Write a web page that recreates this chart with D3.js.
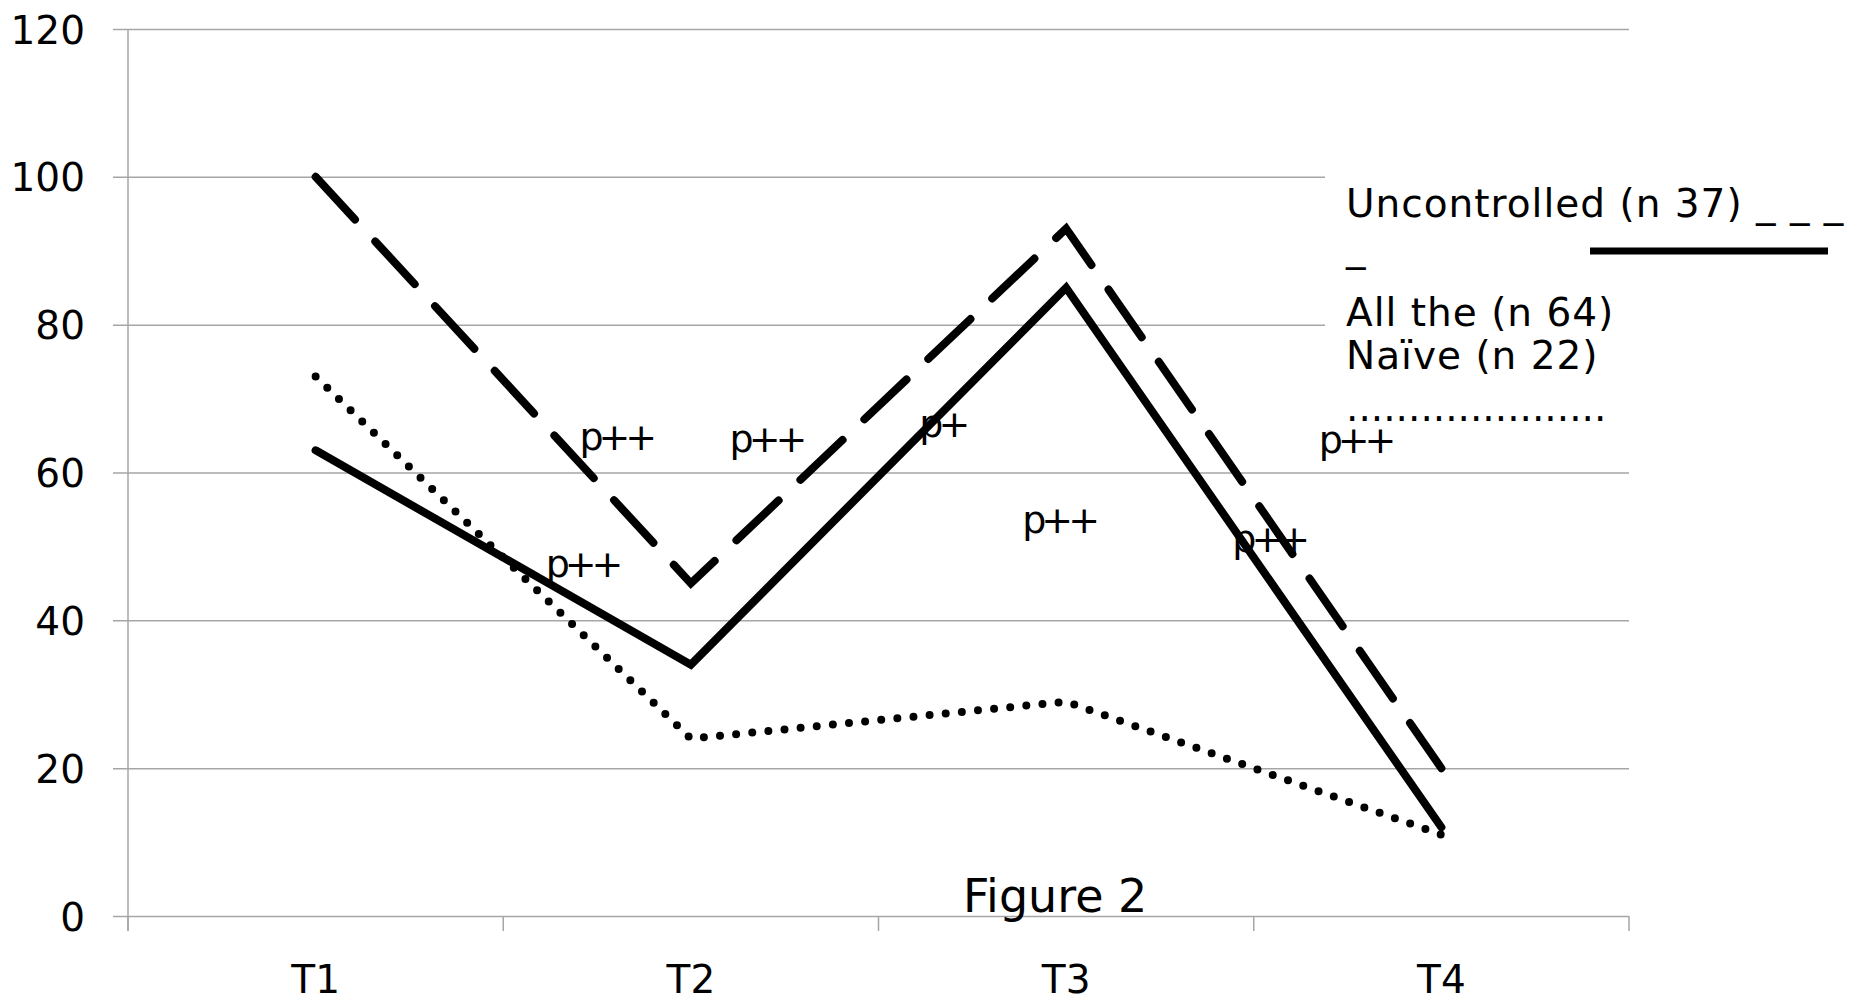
<!DOCTYPE html>
<html>
<head>
<meta charset="utf-8">
<script src="https://cdn.jsdelivr.net/npm/d3@7"></script>
<style>
  body { margin: 0; background: #fff; }
  text { font-family: "DejaVu Sans", sans-serif; fill: #000; }
</style>
</head>
<body>
<div id="chart"></div>
<script>
var width = 1862, height = 1004

// chart values
var categories = ["T1", "T2", "T3", "T4"]
var uncontrolled = [100, 45, 93, 20]
var allPatients = [63, 34, 85, 12]
var naive = [73, 24, 29, 11]
var yTicks = [0, 20, 40, 60, 80, 100, 120]

// significance marks, placed in band units (x) and value units (y)
var markText = ["p++", "p++", "p+", "p++", "p++", "p++", "p++"]
var markBand = [1.30, 1.70, 2.17, 1.21, 3.27, 2.48, 3.04]
var markValue = [63.0, 62.8, 64.8, 45.9, 62.6, 51.8, 49.2]

var legendLines = ["Uncontrolled (n 37) _ _ _", "_", "All the (n 64)", "Naïve (n 22)", "....................."]

// note: "top" is taken by window.top, so plot edges get their own names
var plotL = 128, plotR = 1629, plotT = 29, plotB = 916

let svg = d3.select("div#chart").append("svg").attr("width", width).attr("height", height)

var x = d3.scaleBand().domain(categories).range([plotL, plotR]).padding(0)
var xb = d3.scaleLinear().domain([0, 4]).range([plotL, plotR])
var y = d3.scaleLinear().domain([0, 120]).range([plotB, plotT])

// gridlines + y labels
var yAxis = svg.append("g").attr("transform", "translate(" + plotL + ",0)")
    .call(d3.axisLeft(y).tickValues(yTicks).tickSize(15).tickPadding(28))
yAxis.select(".domain").remove()
yAxis.selectAll("line").attr("x1", plotR - plotL).attr("stroke", "#a6a6a6").attr("stroke-width", 1.5)
yAxis.selectAll("text").style("font-size", "39px").attr("dy", "0.36em")

// y axis line, a bit below zero
svg.append("line").attr("x1", plotL).attr("x2", plotL).attr("y1", y(120)).attr("y2", plotB + 15)
    .attr("stroke", "#a6a6a6").attr("stroke-width", 1.5)

// boundary ticks on the x axis
svg.selectAll(".xtick").data(d3.range(5)).join("line").attr("class", "xtick")
    .attr("x1", d => xb(d)).attr("x2", d => xb(d))
    .attr("y1", plotB).attr("y2", plotB + 15)
    .attr("stroke", "#a6a6a6").attr("stroke-width", 1.5)

var xAxis = svg.append("g").attr("transform", "translate(0," + plotB + ")")
    .call(d3.axisBottom(x).tickSize(0).tickPadding(49))
xAxis.select(".domain").remove()
xAxis.selectAll("text").style("font-size", "39px").attr("dy", "0.71em")

// legend box hides the gridlines behind it
svg.append("rect").attr("x", 1325).attr("y", 150).attr("width", width - 1325).attr("height", 290).attr("fill", "#fff")

var line = d3.line().x((d, i) => x(categories[i]) + x.bandwidth() / 2).y(d => y(d))

svg.append("path").datum(naive).attr("d", line).attr("fill", "none")
    .attr("stroke", "#000").attr("stroke-width", 8).attr("stroke-linecap", "round")
    .attr("stroke-dasharray", "0,16.2")

svg.append("path").datum(allPatients).attr("d", line).attr("fill", "none")
    .attr("stroke", "#000").attr("stroke-width", 8).attr("stroke-linecap", "round")

svg.append("path").datum(uncontrolled).attr("d", line).attr("fill", "none")
    .attr("stroke", "#000").attr("stroke-width", 8).attr("stroke-linecap", "round")
    .attr("stroke-dasharray", "58,30")

// p marks
svg.selectAll(".mark").data(markText).join("text").attr("class", "mark")
    .attr("x", (d, i) => xb(markBand[i])).attr("y", (d, i) => y(markValue[i]))
    .attr("text-anchor", "middle").style("font-size", "38px").style("letter-spacing", "-5px")
    .text(d => d)

// legend text
var legendY = [217, 261, 326, 369, 421]
svg.selectAll(".leg").data(legendLines).join("text").attr("class", "leg")
    .attr("x", 1346).attr("y", (d, i) => legendY[i])
    .style("font-size", "39px").style("letter-spacing", (d, i) => i == 4 ? "0px" : "1px")
    .text(d => d)

svg.append("line").attr("x1", 1590).attr("x2", 1828).attr("y1", 251).attr("y2", 251)
    .attr("stroke", "#000").attr("stroke-width", 7)

svg.append("text").attr("x", 963).attr("y", 912).style("font-size", "46px").text("Figure 2")
</script>
</body>
</html>
